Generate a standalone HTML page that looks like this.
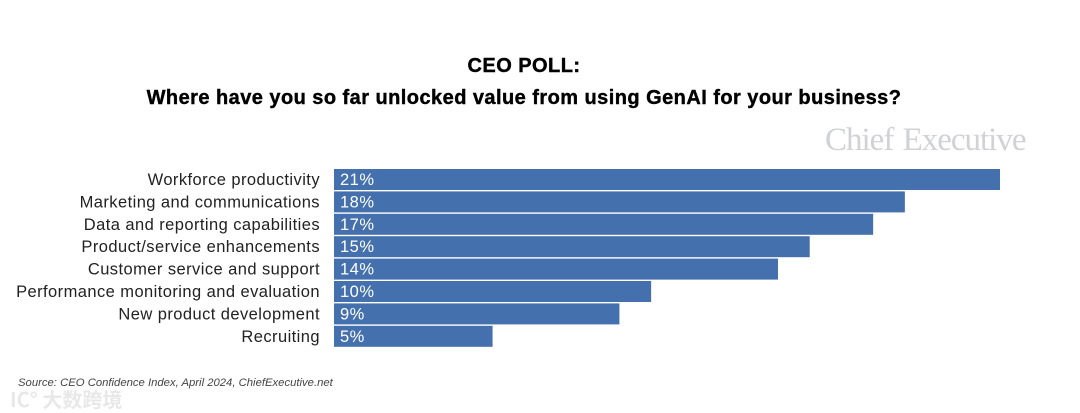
<!DOCTYPE html>
<html><head><meta charset="utf-8"><style>
body{margin:0;background:#fff;width:1080px;height:412px;overflow:hidden;position:relative;font-family:"Liberation Sans",sans-serif}
.t{position:absolute;left:-16px;width:1080px;text-align:center;font-weight:bold;font-size:20px;letter-spacing:0.45px;color:#000;-webkit-text-stroke:0.4px #000}
</style></head><body>
<div class="t" style="top:55px">CEO POLL:</div>
<div class="t" style="top:87px">Where have you so far unlocked value from using GenAI for your business?</div>
<div style="position:absolute;left:825px;top:122px;font-family:'Liberation Serif',serif;font-size:33px;color:#d0d2d6;letter-spacing:-1px;word-spacing:2px">Chief Executive</div>
<svg id="chart" width="1080" height="412" style="position:absolute;left:0;top:0"></svg>
<div style="position:absolute;left:18px;top:377px;font-size:11.3px;font-style:italic;color:#444">Source: CEO Confidence Index, April 2024, ChiefExecutive.net</div>
<div style="position:absolute;left:10px;top:384px;font-family:'Noto Sans CJK SC',sans-serif;font-size:20px;color:rgba(210,210,210,0.5);font-weight:bold">IC° 大数跨境</div>
<script>
const categories=["Workforce productivity","Marketing and communications","Data and reporting capabilities","Product/service enhancements","Customer service and support","Performance monitoring and evaluation","New product development","Recruiting"];
const values=[21,18,17,15,14,10,9,5];
const labels=["21%","18%","17%","15%","14%","10%","9%","5%"];
const svg=document.getElementById('chart');
const NS='http://www.w3.org/2000/svg';
const x0=334, scale=666/21;
const xs=v=>v*scale;
const ys=i=>169+i*22.4;
categories.forEach((c,i)=>{
  const r=document.createElementNS(NS,'rect');
  r.setAttribute('x',x0);r.setAttribute('y',ys(i));r.setAttribute('width',xs(values[i]));r.setAttribute('height',21);r.setAttribute('fill','#4470ad');
  
  
  svg.appendChild(r);
  const l=document.createElementNS(NS,'text');
  l.setAttribute('x',x0-14);l.setAttribute('y',ys(i)+16);l.setAttribute('text-anchor','end');l.setAttribute('font-size','16.5');l.setAttribute('letter-spacing','0.43');l.setAttribute('fill','#222');l.textContent=c;
  
  
  svg.appendChild(l);
  const v=document.createElementNS(NS,'text');
  v.setAttribute('x',x0+6);v.setAttribute('y',ys(i)+16);v.setAttribute('font-size','16.5');v.setAttribute('letter-spacing','0.5');v.setAttribute('fill','#fff');v.textContent=labels[i];
  
  
  svg.appendChild(v);
});
</script>
</body></html>
